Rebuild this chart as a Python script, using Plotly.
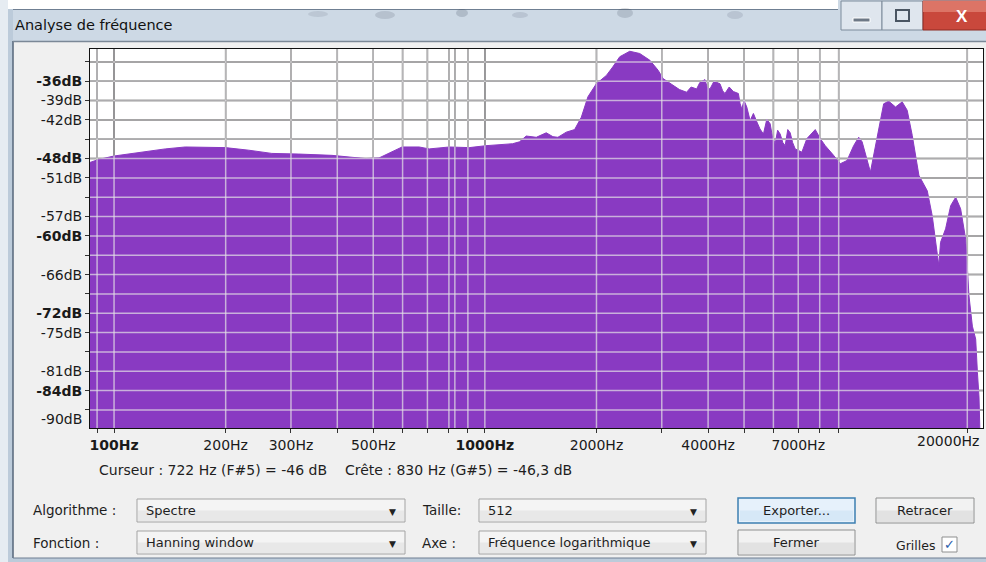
import math
import plotly.graph_objects as go

# ---------------- data ----------------
FREQ_HZ = [86.13, 90.7, 100, 111.4, 123.8, 137.4, 155.6, 169, 199.6, 230.8,
           266.4, 315, 386.9, 438.3, 477.2, 518.4, 562, 598, 665, 708,
           802, 908, 1007, 1094, 1187, 1240, 1293, 1376, 1464, 1526,
           1574, 1658, 1746, 1820, 1897, 1998, 2127, 2212, 2311, 2459,
           2616, 2786, 2933, 3026, 3220,
           3350, 3500, 3600, 3725, 3800, 3923, 3980, 4047, 4150, 4306,
           4380, 4442, 4560, 4679, 4827, 4880, 4930, 5000, 5086, 5192,
           5300, 5413, 5520, 5640, 5760, 5880, 5960, 6066, 6160, 6258,
           6360, 6455, 6560, 6659, 6760, 6870,
           7161, 7388, 7780, 8026, 8279, 8719,
           9091, 9478, 9876, 10190, 10410, 10960, 11430, 11900, 12280, 12810,
           13350, 13770, 14210, 14810, 15600, 16090, 16760, 16940, 17480, 18040,
           18610, 19190, 19800, 20210, 20640, 21070, 21300, 21510, 21740]
LEVEL_DB = [-48.6, -48.15, -47.6, -47.2, -46.8, -46.5, -46.2, -46.2, -46.3, -46.7,
            -47.2, -47.3, -47.5, -47.8, -48.0, -47.9, -47.0, -46.2, -46.2, -46.5,
            -46.2, -46.3, -46.0, -45.9, -45.7, -45.4, -44.5, -44.7, -44.0, -44.6,
            -44.7, -43.9, -43.5, -41.6, -38.4, -36.4, -35.1, -33.8, -32.2, -31.35,
            -31.7, -32.75, -34.3, -35.6, -36.6,
            -37.3, -37.7, -36.9, -37.2, -36.2, -35.75, -37.0, -37.2, -36.0, -36.4,
            -37.5, -37.9, -36.9, -37.6, -37.9, -39.5, -40.3, -39.0, -40.0, -42.1,
            -41.0, -42.3, -43.4, -44.2, -41.9, -42.6, -44.5, -45.7, -43.6, -44.2,
            -45.5, -46.0, -43.5, -44.0, -45.5, -46.5,
            -47.0, -44.9, -43.5, -44.9, -46.0, -47.5,
            -48.8, -48.3, -46.0, -44.7, -45.4, -50.1, -44.9, -39.5, -39.1, -40.0,
            -39.2, -40.5, -44.4, -50.6, -53.0, -56.9, -64.6, -61.0, -58.9, -55.3,
            -54.0, -55.8, -60.5, -69.3, -74.0, -76.0, -81.2, -85.0, -95.0]
assert len(FREQ_HZ) == len(LEVEL_DB)
FLOOR_DB = -100.0

FREQ_MIN, FREQ_MAX = 86.13, 22050.0
DB_MIN, DB_MAX = -89.8, -31.0

GRID_HZ = [90, 100, 200, 300, 400, 500, 600, 700, 800, 900,
           1000, 2000, 3000, 4000, 5000, 6000, 7000, 8000, 9000, 20000]
MAJOR_HZ = [100, 1000]
X_LABELS = {100: "<b>100Hz</b>", 200: "200Hz", 300: "300Hz", 500: "500Hz",
            1000: "<b>1000Hz</b>", 2000: "2000Hz", 4000: "4000Hz", 7000: "7000Hz"}
EDGE_X_LABEL = "20000Hz"

GRID_DB = [-33, -36, -39, -42, -45, -48, -51, -54, -57, -60,
           -63, -66, -69, -72, -75, -78, -81, -84, -87, -90]
Y_LABELS = {-36: "<b>-36dB</b>", -39: "-39dB", -42: "-42dB", -48: "<b>-48dB</b>",
            -51: "-51dB", -57: "-57dB", -60: "<b>-60dB</b>", -66: "-66dB",
            -72: "<b>-72dB</b>", -75: "-75dB", -81: "-81dB", -84: "<b>-84dB</b>"}
EDGE_Y_LABEL = "-90dB"

PEAK_HZ = 830
STATUS = "Curseur : 722 Hz (F#5) = -46 dB    Crête : 830 Hz (G#5) = -46,3 dB"
TITLE = "Analyse de fréquence"

FILL = "rgb(137,58,194)"
FONT = "DejaVu Sans"

# ---------------- geometry of the dialog ----------------
W, H = 986, 562
PL, PR, PT, PB = 90, 983, 49, 428


def px(x):
    return (x - PL) / (PR - PL)


def py(y):
    return (PB - y) / (PB - PT)


fig = go.Figure()
fig.add_trace(go.Scatter(x=FREQ_HZ, y=[FLOOR_DB] * len(FREQ_HZ), mode="lines",
                         line=dict(width=0, color=FILL), hoverinfo="skip",
                         showlegend=False))
fig.add_trace(go.Scatter(x=FREQ_HZ, y=LEVEL_DB, mode="lines", fill="tonexty",
                         fillcolor=FILL, line=dict(width=1, color=FILL),
                         showlegend=False))

shapes = []
annos = []


def rect(x0, y0, x1, y1, fill, line=None, lw=1, layer="below"):
    shapes.append(dict(type="rect", xref="paper", yref="paper",
                       x0=px(x0), x1=px(x1), y0=py(y0), y1=py(y1),
                       fillcolor=fill, layer=layer,
                       line=dict(color=line or fill, width=lw if line else 0)))


def hline(x0, x1, y, color, lw=1):
    shapes.append(dict(type="line", xref="paper", yref="paper", x0=px(x0), x1=px(x1),
                       y0=py(y), y1=py(y), line=dict(color=color, width=lw), layer="below"))


def vline(x, y0, y1, color, lw=1):
    shapes.append(dict(type="line", xref="paper", yref="paper", x0=px(x), x1=px(x),
                       y0=py(y0), y1=py(y1), line=dict(color=color, width=lw), layer="below"))


def text(x, y, s, size=13.5, anchor="left", color="#1e1e1e", family=FONT):
    annos.append(dict(xref="paper", yref="paper", x=px(x), y=py(y), text=s,
                      showarrow=False, xanchor=anchor, yanchor="middle",
                      font=dict(family=family, size=size, color=color)))


# window frame / title bar
rect(0, 0, W, 42, "#cdd9e5")
rect(0, 0, 838, 9, "#ffffff")
hline(8, 838, 9.5, "#6f7f92")
rect(0, 0, 8, H, "#e6ecf2")
rect(8, 9, 13, H, "#bccbda")
vline(13, 41, 558, "#56667a", 1.5)
hline(13, W, 41.5, "#7b8897", 1.5)
rect(13, 558, W, H, "#bccbda")
hline(13, W, 558, "#6f7f92")
# faint blurred marks behind the glass
for (cx, cy, rx, ry, a) in [(318, 14, 10, 3, 0.10), (385, 15, 10, 4, 0.14), (462, 13, 6, 4, 0.18),
                            (520, 15, 8, 3, 0.12), (625, 13, 8, 5, 0.16), (735, 15, 8, 4, 0.12)]:
    shapes.append(dict(type="circle", xref="paper", yref="paper", x0=px(cx - rx), x1=px(cx + rx),
                       y0=py(cy - ry), y1=py(cy + ry), fillcolor="rgba(40,50,70,%s)" % a,
                       line=dict(width=0), layer="below"))
text(13, 25, TITLE, size=14.5, color="#111111")

# caption buttons
rect(841, 1, 882, 30, "#dfe6ee", "#7d8b9b")
rect(882, 1, 923, 30, "#dfe6ee", "#7d8b9b")
rect(853, 18, 870, 22, "#6d7886", "#ffffff")
rect(896, 10, 909, 21, "rgba(0,0,0,0)", "#4a5562", 2)
rect(923, 1, W + 2, 30, "#c9483c", "#8e2a22")
rect(923, 1, W + 2, 12, "#dc7466")
text(962, 16, "<b>X</b>", size=17, anchor="center", color="#ffffff", family="Liberation Sans")

# status line
text(97, 470, STATUS, size=14)


def dropdown(x0, y0, x1, y1, label):
    rect(x0, y0, x1, y1, "#f4f4f4", "#a3a3a3")
    rect(x0 + 1, (y0 + y1) / 2, x1 - 1, y1 - 1, "#e8e8e8")
    text(x0 + 7, (y0 + y1) / 2, label, size=13)
    text(x1 - 13, (y0 + y1) / 2 + 1, "▼", size=9, anchor="center", color="#222222")


def button(x0, y0, x1, y1, label, focus=False):
    if focus:
        rect(x0, y0, x1, y1, "#e6f1fb", "#3c7fb1", 1.5)
        rect(x0 + 2, (y0 + y1) / 2, x1 - 2, y1 - 2, "#d6e8f7")
    else:
        rect(x0, y0, x1, y1, "#f2f2f2", "#8e8f8f")
        rect(x0 + 1, (y0 + y1) / 2, x1 - 1, y1 - 1, "#e2e2e2")
    text((x0 + x1) / 2, (y0 + y1) / 2, label, size=13, anchor="center")


text(31, 510, "Algorithme :")
dropdown(137, 499, 405, 522, "Spectre")
text(420, 510, "Taille:")
dropdown(479, 499, 706, 522, "512")
button(738, 498, 855, 523, "Exporter...", focus=True)
button(876, 498, 974, 523, "Retracer")

text(31, 543, "Fonction :")
dropdown(137, 531, 405, 554, "Hanning window")
text(420, 543, "Axe :")
dropdown(479, 531, 706, 554, "Fréquence logarithmique")
button(738, 530, 855, 555, "Fermer")
text(937, 545, "Grilles", size=12.5, anchor="right")
rect(942, 537, 957, 552, "#ffffff", "#8e8f8f")
text(949.5, 544.5, "<b>✓</b>", size=13, anchor="center", color="#2a5caa")


# grid: dark line under the fill, light translucent line over it
def vgrid(f, under):
    shapes.append(dict(type="line", xref="x", yref="y domain", x0=f, x1=f, y0=0, y1=1,
                       layer="below", line=dict(color=under, width=1.5)))
    shapes.append(dict(type="line", xref="x", yref="y domain", x0=f, x1=f, y0=0, y1=1,
                       layer="above", line=dict(color="rgba(228,226,230,0.7)", width=1.5)))


for f in GRID_HZ:
    vgrid(f, "#000000" if f in MAJOR_HZ else "#4a4a4a")
vgrid(PEAK_HZ, "#3a3a3a")
for d in GRID_DB:
    shapes.append(dict(type="line", xref="x domain", yref="y", x0=0, x1=1, y0=d, y1=d,
                       layer="below", line=dict(color="#2e2e2e", width=1.5)))
    shapes.append(dict(type="line", xref="x domain", yref="y", x0=0, x1=1, y0=d, y1=d,
                       layer="above", line=dict(color="rgba(228,226,230,0.7)", width=1.5)))

# edge labels (shifted to stay inside the dialog)
text(84, 419, EDGE_Y_LABEL, size=14, anchor="right", color="#1a1a1a")
text(981, 441, EDGE_X_LABEL, size=14, anchor="right", color="#1a1a1a")

fig.update_layout(
    width=W, height=H,
    margin=dict(l=PL, r=W - PR, t=PT, b=H - PB, pad=0),
    paper_bgcolor="#f0f0f0", plot_bgcolor="#ffffff",
    showlegend=False,
    shapes=shapes, annotations=annos,
    xaxis=dict(type="log", range=[math.log10(FREQ_MIN), math.log10(FREQ_MAX)],
               tickvals=GRID_HZ, ticktext=[X_LABELS.get(f, "") for f in GRID_HZ],
               ticks="outside", ticklen=4, tickcolor="#333333", showgrid=False,
               zeroline=False, showline=True, linecolor="#111111", linewidth=1, mirror=True,
               tickfont=dict(family=FONT, size=14, color="#1a1a1a"), fixedrange=True),
    yaxis=dict(range=[DB_MIN, DB_MAX], tickvals=GRID_DB,
               ticktext=[Y_LABELS.get(d, "") for d in GRID_DB],
               ticks="outside", ticklen=4, tickcolor="#333333", showgrid=False,
               zeroline=False, showline=True, linecolor="#111111", linewidth=1, mirror=True,
               tickfont=dict(family=FONT, size=14, color="#1a1a1a"), fixedrange=True),
)

fig.write_html("out.html", config={"displayModeBar": False},
               post_script="document.body.style.margin='0';")
